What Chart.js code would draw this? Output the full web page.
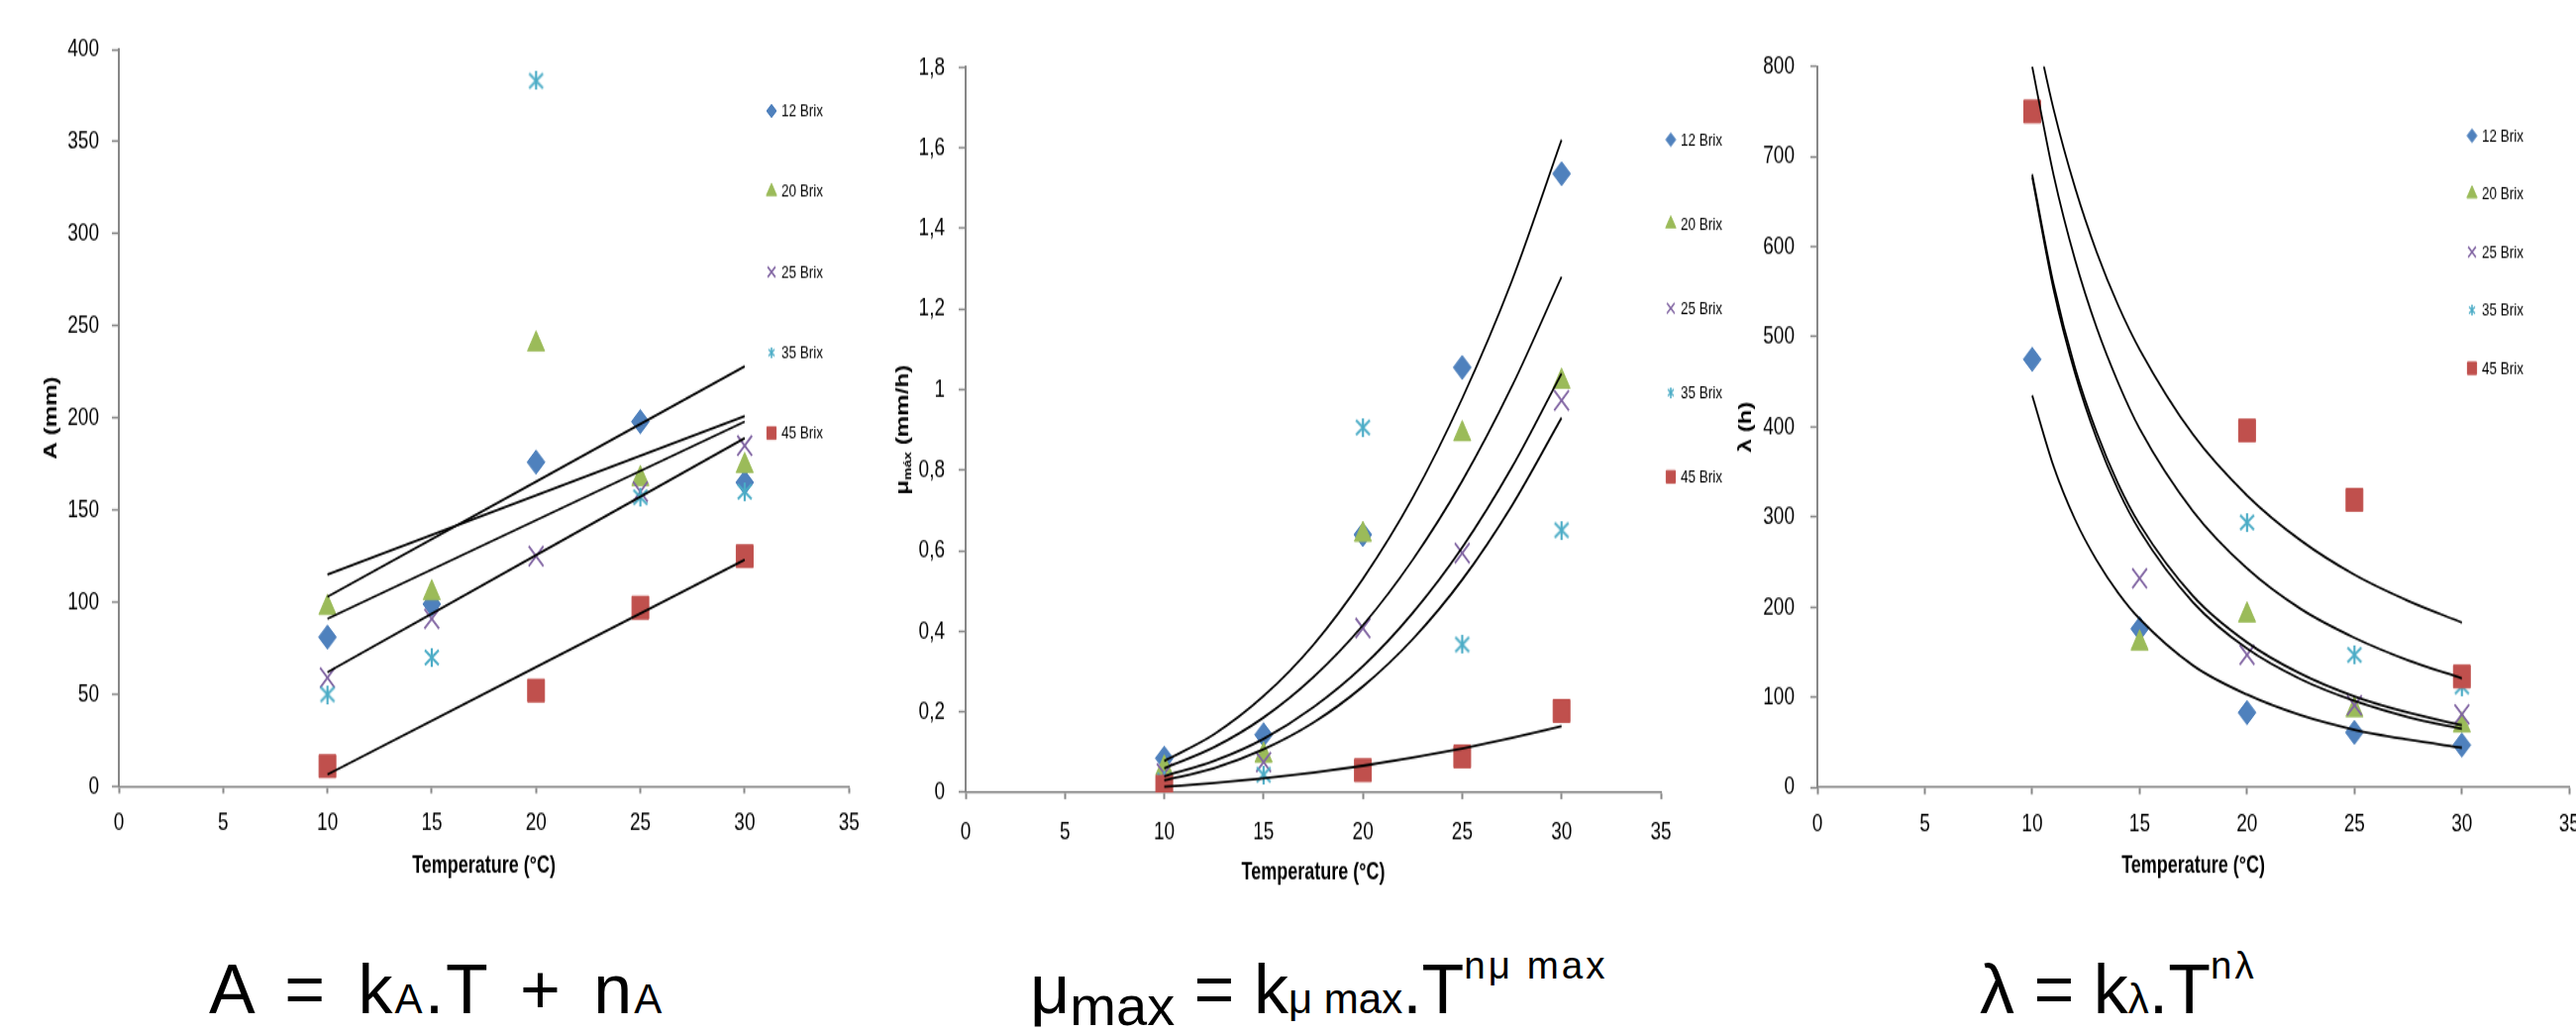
<!DOCTYPE html>
<html>
<head>
<meta charset="utf-8">
<script src="https://cdn.jsdelivr.net/npm/chart.js@4.4.1/dist/chart.umd.min.js"></script>
<style>
  html, body { margin: 0; padding: 0; background: #fff; width: 2601px; height: 1043px; overflow: hidden; }
  /* the original figure is a vertically stretched excel chart, so the charts are drawn flat and stretched */
  .panel { position: absolute; top: 0; height: 667px; transform: scaleY(1.34933); transform-origin: 0 0; }
  .eq { position: absolute; top: 964px; font-family: 'Liberation Sans', Arial, sans-serif; font-size: 70px; line-height: 70px; white-space: nowrap; color: #000; }
  .eq .s { font-size: 0.6em; }
  .eq .lo { font-size: 0.8em; position: relative; top: 0.22em; }
  .eq .hi { font-size: 0.55em; position: relative; top: -0.9em; letter-spacing: 3px; }
</style>
</head>
<body>
<div class="panel" style="left:0px;width:879px"><canvas id="chartA"></canvas></div>
<div class="panel" style="left:870px;width:880px"><canvas id="chartMu"></canvas></div>
<div class="panel" style="left:1740px;width:876px"><canvas id="chartLag"></canvas></div>

<div class="eq" style="left:211px;letter-spacing:2px;word-spacing:10px">A = k<span class="s">A</span>.T + n<span class="s">A</span></div>
<div class="eq" style="left:1040px">μ<span class="lo">max</span> = k<span class="s">μ max</span>.T<span class="hi">nμ max</span></div>
<div class="eq" style="left:1999px">λ = k<span class="s">λ</span>.T<span class="hi">nλ</span></div>

<script>
// temperatures and series
const tempX = [10, 15, 20, 25, 30];
const brixLabels = ['12 Brix', '20 Brix', '25 Brix', '35 Brix', '45 Brix'];

// A (mm)
const aBrix12 = [81, 99, 176, 198, 165];
const aBrix20 = [97, 105, 240, 167, 174];
const aBrix25 = [59, 91, 125, 160, 185];
const aBrix35 = [50, 70, 383, 157, 160];
const aBrix45 = [11, null, 52, 97, 125];
const aFitX = [10, 30];
const aFit12 = [91, 198];
const aFit20 = [115, 201];
const aFit25 = [62, 189];
const aFit35 = [103, 228];
const aFit45 = [6.5, 123];

// mu max (mm/h)
const muBrix12 = [0.085, 0.143, 0.64, 1.055, 1.536];
const muBrix20 = [0.06, 0.092, 0.64, 0.89, 1.02];
const muBrix25 = [0.047, 0.075, 0.408, 0.594, 0.973];
const muBrix35 = [0.03, 0.044, 0.906, 0.367, 0.651];
const muBrix45 = [0.014, null, 0.055, 0.089, 0.202];
const muFitX = [10, 12.5, 15, 17.5, 20, 22.5, 25, 27.5, 30];
const muFit12 = [0.078, 0.144, 0.239, 0.366, 0.53, 0.731, 0.978, 1.27, 1.62];
const muFit20 = [0.06, 0.112, 0.186, 0.286, 0.415, 0.577, 0.773, 1.008, 1.28];
const muFit25 = [0.04, 0.078, 0.133, 0.211, 0.313, 0.445, 0.608, 0.807, 1.04];
const muFit35 = [0.03, 0.06, 0.107, 0.173, 0.263, 0.38, 0.528, 0.712, 0.93];
const muFit45 = [0.014, 0.023, 0.035, 0.049, 0.066, 0.086, 0.109, 0.135, 0.164];

// lambda (h)
const lagBrix12 = [475, 176, 83, 61, 47];
const lagBrix20 = [null, 160, 191, 86, 69];
const lagBrix25 = [null, 232, 147, 91, 81];
const lagBrix35 = [null, null, 294, 147, 112];
const lagBrix45 = [750, null, 396, 319, 123];
const lagFitX = [10, 11, 12, 13, 14, 15, 17.5, 20, 22.5, 25, 27.5, 30];
const lagFit12 = [435, 356, 297, 252, 216, 187, 135, 103, 80, 64, 53, 44];
const lagFit20 = [680, 558, 465, 394, 337, 292, 212, 161, 126, 101, 83, 69];
const lagFit25 = [677, 552, 459, 387, 330, 285, 205, 154, 120, 96, 78, 65];
const lagFit35 = [800, 679, 585, 510, 449, 398, 306, 243, 198, 166, 141, 121];
const lagFit45 = [860, 752, 665, 594, 535, 486, 391, 324, 274, 236, 207, 183];

const BLUE = '#4F81BD', GREEN = '#9BBB59', PURPLE = '#8064A2', AQUA = '#4BACC6', RED = '#C0504D';
const AXIS = '#878787';
const FONT = "'Liberation Sans', Arial, sans-serif";
const K = 900 / 667;          // vertical stretch of the panels
const u = v => v / K;         // page y -> chart y

// excel style asterisk marker (x plus vertical bar)
function starImage(w, h, lw) {
  const c = document.createElement('canvas');
  c.width = w; c.height = h;
  const g = c.getContext('2d');
  g.strokeStyle = AQUA;
  g.lineWidth = lw;
  g.beginPath();
  g.moveTo(2, 1.5); g.lineTo(w - 2, h - 1.5);
  g.moveTo(w - 2, 1.5); g.lineTo(2, h - 1.5);
  g.moveTo(w / 2, 0); g.lineTo(w / 2, h);
  g.stroke();
  return c;
}

const marks = [
  { style: 'rectRot', color: BLUE, r: 9, lr: 5 },
  { style: 'triangle', color: GREEN, r: 10, lr: 6 },
  { style: 'crossRot', color: PURPLE, r: 10.5, lr: 5.5 },
  { style: starImage(18, 14, 2.2), color: AQUA, r: 8, lr: 5, small: starImage(10, 8, 1.5) },
  { style: 'rect', color: RED, r: 12, lr: 6.5 }
];

function pts(xs, ys) {
  return xs.map((x, i) => ({ x: x, y: ys[i] })).filter(p => p.y !== null);
}

function makeDatasets(series, fitX, fits) {
  const sets = series.map((ys, i) => ({
    type: 'scatter',
    label: brixLabels[i],
    data: pts(tempX, ys),
    pointStyle: marks[i].style,
    pointRadius: marks[i].r,
    backgroundColor: marks[i].color,
    borderColor: marks[i].color,
    borderWidth: marks[i].style === 'crossRot' ? 1.8 : 1,
    order: 6 - i
  }));
  fits.forEach(ys => sets.push({
    type: 'line',
    label: '',
    data: pts(fitX, ys),
    borderColor: '#000',
    borderWidth: 1.8,
    pointRadius: 0,
    fill: false,
    cubicInterpolationMode: 'monotone',
    order: 0
  }));
  return sets;
}

// legend drawn inside the plot, like the original
const brixLegend = {
  id: 'brixLegend',
  afterDraw(chart, args, opts) {
    const ctx = chart.ctx;
    ctx.save();
    ctx.font = '13.5px ' + FONT;
    ctx.textBaseline = 'middle';
    chart.data.datasets.filter(d => d.type === 'scatter').forEach((d, i) => {
      const m = marks[i];
      const y = u(opts.top + i * opts.gap);
      ctx.fillStyle = m.color;
      ctx.strokeStyle = m.color;
      ctx.lineWidth = m.style === 'crossRot' ? 1.5 : 1;
      if (m.small) {
        ctx.drawImage(m.small, opts.left - m.small.width / 2, y - m.small.height / 2);
      } else {
        Chart.helpers.drawPoint(ctx, { pointStyle: m.style, radius: m.lr, borderWidth: ctx.lineWidth, rotation: 0 }, opts.left, y);
      }
      ctx.fillStyle = '#000';
      ctx.fillText(d.label, opts.left + 10, y + 0.5);
    });
    ctx.restore();
  }
};

// y title with subscript for the mu panel
const muTitle = {
  id: 'muTitle',
  afterDraw(chart, args, opts) {
    if (!opts.x) return;
    const ctx = chart.ctx, a = chart.chartArea;
    const big = 'bold 18px ' + FONT, small = 'bold 10.5px ' + FONT;
    ctx.save();
    ctx.translate(opts.x, (a.top + a.bottom) / 2);
    ctx.rotate(-Math.PI / 2);
    ctx.fillStyle = '#000';
    ctx.textBaseline = 'middle';
    ctx.font = big; const w1 = ctx.measureText('μ').width; const w3 = ctx.measureText(' (mm/h)').width;
    ctx.font = small; const w2 = ctx.measureText('máx').width;
    let x = -(w1 + w2 + w3) / 2;
    ctx.font = big; ctx.fillText('μ', x, 0); x += w1;
    ctx.font = small; ctx.fillText('máx', x, 5); x += w2;
    ctx.font = big; ctx.fillText(' (mm/h)', x, 0);
    ctx.restore();
  }
};

function buildChart(id, c) {
  return new Chart(document.getElementById(id), {
    type: 'scatter',
    data: { datasets: c.datasets },
    options: {
      responsive: true,
      maintainAspectRatio: false,
      animation: false,
      events: [],
      layout: { padding: { top: u(c.top), right: c.right, left: 0, bottom: 0 } },
      scales: {
        x: {
          type: 'linear', min: 0, max: 35,
          afterFit: s => { s.height = u(c.xh); },
          border: { color: AXIS, width: 1.5 },
          grid: { drawOnChartArea: false, tickLength: u(7), tickColor: AXIS, tickWidth: 2 },
          ticks: { stepSize: 5, padding: c.xPad, color: '#000', font: { family: FONT, size: 19 } },
          title: { display: true, text: 'Temperature (°C)', color: '#000', font: { family: FONT, size: 18, weight: 'bold' }, padding: { top: 0, bottom: c.xtPad } }
        },
        y: {
          type: 'linear', min: 0, max: c.yMax,
          afterFit: s => { s.width = c.yw; },
          border: { color: AXIS, width: 2 },
          grid: { drawOnChartArea: false, tickLength: 7, tickColor: AXIS, tickWidth: 1.5 },
          ticks: { stepSize: c.yStep, padding: c.yPad, color: '#000', font: { family: FONT, size: 19 }, callback: c.yFmt },
          title: { display: !!c.yTitle, text: c.yTitle || '', color: '#000', font: { family: FONT, size: 18, weight: 'bold' }, padding: { top: c.ytPad || 0, bottom: 0 } }
        }
      },
      plugins: {
        legend: { display: false },
        tooltip: { enabled: false },
        brixLegend: c.legend,
        muTitle: { x: c.muX || 0 }
      }
    },
    plugins: [brixLegend, muTitle]
  });
}

buildChart('chartA', {
  datasets: makeDatasets([aBrix12, aBrix20, aBrix25, aBrix35, aBrix45], aFitX, [aFit12, aFit20, aFit25, aFit35, aFit45]),
  top: 50, right: 20, xh: 106, yw: 120, xPad: 11.2, xtPad: 8.5, yPad: 13,
  yMax: 400, yStep: 50, yFmt: v => v,
  yTitle: 'A (mm)', ytPad: 40.8,
  legend: { left: 779, top: 112, gap: 81.3 }
});

buildChart('chartMu', {
  datasets: makeDatasets([muBrix12, muBrix20, muBrix25, muBrix35, muBrix45], muFitX, [muFit12, muFit20, muFit25, muFit35, muFit45]),
  top: 68, right: 73, xh: 100, yw: 105, xPad: 13.4, xtPad: 2.9, yPad: 14,
  yMax: 1.8, yStep: 0.2, yFmt: v => String(Math.round(v * 10) / 10).replace('.', ','),
  muX: 42,
  legend: { left: 817, top: 141, gap: 85.1 }
});

buildChart('chartLag', {
  datasets: makeDatasets([lagBrix12, lagBrix20, lagBrix25, lagBrix35, lagBrix45], lagFitX, [lagFit12, lagFit20, lagFit25, lagFit35, lagFit45]),
  top: 67, right: 20, xh: 105, yw: 95, xPad: 11.2, xtPad: 8.2, yPad: 16,
  yMax: 800, yStep: 100, yFmt: v => v,
  yTitle: 'λ (h)', ytPad: 12.2,
  legend: { left: 756, top: 137, gap: 58.7 }
});
</script>
</body>
</html>
